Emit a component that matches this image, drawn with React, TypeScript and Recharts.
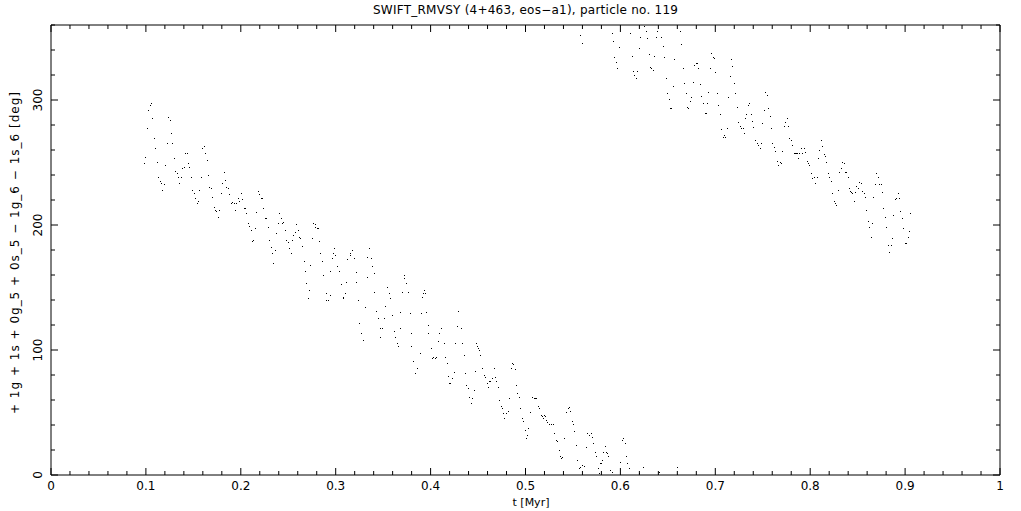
import React from "react";
import { ScatterChart, Scatter, XAxis, YAxis } from "recharts";

// t [Myr], angle [deg], one run of points per stretch of time
const run1: [number, number][] = [
  [0.0989, 249], [0.1, 254], [0.1021, 277], [0.1031, 292], [0.1053, 296], [0.1063, 297], [0.1074, 285], [0.1095, 269], [0.1105, 261], [0.1126, 250],
  [0.1137, 238], [0.1158, 235], [0.1168, 233], [0.1179, 228], [0.12, 232], [0.1211, 248], [0.1232, 265], [0.1242, 286], [0.1263, 284], [0.1274, 273],
  [0.1284, 265], [0.1306, 253], [0.1316, 243], [0.1337, 241], [0.1348, 238], [0.1358, 233], [0.1379, 238], [0.139, 245], [0.1411, 246], [0.1422, 257],
  [0.1443, 257], [0.1453, 249], [0.1464, 246], [0.1485, 238], [0.1495, 228], [0.1516, 225], [0.1527, 221], [0.1548, 217], [0.1559, 219], [0.1569, 228],
  [0.159, 238], [0.1601, 261], [0.1622, 263], [0.1632, 257], [0.1653, 252], [0.1664, 240], [0.1675, 230], [0.1696, 229], [0.1706, 222], [0.1727, 214],
  [0.1738, 212], [0.1748, 211], [0.1769, 206], [0.178, 212], [0.1801, 225], [0.1812, 233], [0.1833, 242], [0.1843, 236], [0.1854, 230], [0.1875, 229],
  [0.1885, 224], [0.1906, 217], [0.1917, 218], [0.1938, 217], [0.1949, 212], [0.1959, 217], [0.198, 221], [0.1991, 219], [0.2012, 225], [0.2022, 220],
  [0.2044, 213], [0.2054, 213], [0.2065, 209], [0.2086, 201], [0.2096, 199], [0.2117, 196], [0.2128, 187], [0.2138, 188], [0.216, 197], [0.217, 210],
  [0.2191, 227], [0.2202, 224], [0.2223, 221], [0.2233, 221], [0.2244, 213], [0.2265, 205], [0.2275, 205], [0.2297, 198], [0.2307, 188], [0.2328, 182],
  [0.2339, 177], [0.2349, 169], [0.237, 180], [0.2381, 193], [0.2402, 201],
];

const run2: [number, number][] = [
  [0.2412, 209], [0.2434, 205], [0.2444, 201], [0.2455, 202], [0.2476, 196], [0.2486, 188], [0.2507, 186], [0.2518, 181], [0.2529, 177], [0.255, 188],
  [0.256, 192], [0.2581, 194], [0.2592, 200], [0.2613, 196], [0.2623, 190], [0.2634, 189], [0.2655, 183], [0.2666, 171], [0.2687, 163], [0.2697, 153],
  [0.2718, 141], [0.2729, 148], [0.2739, 168], [0.276, 189], [0.2771, 201], [0.2782, 200], [0.2792, 198], [0.2803, 197], [0.2824, 197], [0.2834, 187],
  [0.2845, 177], [0.2866, 171], [0.2876, 160], [0.2898, 145], [0.2908, 140], [0.2919, 140], [0.294, 144], [0.295, 163], [0.2971, 173], [0.2982, 177],
  [0.2992, 181], [0.3003, 176], [0.3024, 167], [0.3035, 163], [0.3056, 152], [0.3077, 141], [0.3087, 142], [0.3108, 145], [0.3119, 154], [0.3129, 172],
  [0.3151, 176], [0.3161, 177], [0.3182, 180], [0.3193, 173], [0.3214, 162], [0.3224, 154], [0.3235, 140], [0.3256, 121], [0.3267, 113], [0.3288, 108],
  [0.3298, 108], [0.3309, 134], [0.333, 158], [0.334, 174], [0.3361, 181], [0.3372, 173], [0.3383, 167], [0.3404, 161], [0.3414, 146], [0.3435, 131],
  [0.3446, 125], [0.3467, 117], [0.3477, 110], [0.3488, 117], [0.3509, 125], [0.352, 135], [0.3541, 150], [0.3551, 150], [0.3562, 145], [0.3573, 141],
  [0.3594, 128], [0.3615, 115], [0.3626, 110], [0.3647, 105], [0.3657, 103], [0.3678, 117], [0.3688, 130], [0.3699, 146], [0.372, 160], [0.373, 157],
  [0.3741, 153], [0.3762, 146], [0.3783, 129], [0.3794, 113], [0.3804, 103], [0.3825, 91], [0.3836, 81], [0.3846, 81], [0.3867, 85], [0.3889, 97],
  [0.3899, 129], [0.391, 142], [0.392, 145], [0.3931, 148], [0.3941, 145], [0.3962, 130], [0.3973, 120], [0.3983, 113], [0.4005, 101], [0.4015, 93],
  [0.4026, 94], [0.4047, 93], [0.4057, 94], [0.4078, 107], [0.4089, 113],
];

const run3: [number, number][] = [
  [0.412, 117], [0.4142, 105], [0.4152, 94], [0.4173, 89], [0.4184, 79], [0.4194, 73], [0.4205, 73], [0.4226, 77], [0.4247, 82], [0.4258, 105],
  [0.4279, 119], [0.4289, 131], [0.4321, 117], [0.4331, 105], [0.4352, 96], [0.4363, 81], [0.4374, 72], [0.4395, 69], [0.4405, 62], [0.4426, 57],
  [0.4437, 61], [0.4458, 68], [0.4468, 83], [0.4479, 105], [0.449, 103], [0.45, 101], [0.4511, 100], [0.4521, 96], [0.4542, 85], [0.4563, 80],
  [0.4574, 78], [0.4595, 73], [0.4605, 70], [0.4616, 75], [0.4627, 75], [0.4648, 77], [0.4669, 85], [0.4679, 78], [0.469, 75], [0.4711, 70],
  [0.4721, 60], [0.4743, 55], [0.4753, 53], [0.4764, 49], [0.4774, 45], [0.4795, 49], [0.4816, 51], [0.4827, 61], [0.4848, 85], [0.4858, 89],
  [0.4869, 88], [0.489, 84], [0.4901, 72], [0.4911, 65], [0.4932, 62], [0.4943, 53], [0.4964, 45], [0.4974, 43], [0.4996, 36], [0.5006, 29],
  [0.5017, 32], [0.5027, 37], [0.5048, 50], [0.5069, 62], [0.5091, 61], [0.5101, 61], [0.5112, 61], [0.5133, 55], [0.5143, 53], [0.5164, 48],
  [0.5175, 47], [0.5185, 45], [0.5196, 48], [0.5207, 47], [0.5217, 44], [0.5228, 42], [0.5249, 40], [0.527, 40], [0.5291, 40], [0.5301, 33],
  [0.5322, 28], [0.5333, 27], [0.5354, 20], [0.5365, 15], [0.5375, 13], [0.5386, 14], [0.5407, 29], [0.5428, 50], [0.5449, 53], [0.5459, 54],
  [0.547, 51], [0.5491, 43], [0.5502, 40], [0.5512, 35], [0.5533, 24], [0.5544, 12], [0.5565, 5], [0.5575, 6], [0.5597, 8], [0.5618, 7],
  [0.5639, 22], [0.5649, 33], [0.567, 32], [0.5691, 33], [0.5702, 30], [0.5712, 25], [0.5733, 18], [0.5744, 15], [0.5765, 5], [0.5775, 1.3],
  [0.5786, 9], [0.5797, 9], [0.5807, 12], [0.5818, 18], [0.5839, 23], [0.5849, 18], [0.586, 17], [0.5871, 15], [0.5892, 4], [0.5913, 2],
  [0.5997, 10], [0.6018, 28], [0.6029, 29], [0.605, 25], [0.606, 15], [0.6071, 9], [0.6092, 5], [0.6197, 1.3], [0.624, 6], [0.6408, 2],
  [0.6598, 6],
];

const run4: [number, number][] = [
  [0.5579, 352], [0.5597, 345], [0.5913, 353], [0.5923, 347], [0.5934, 334], [0.5955, 330], [0.5966, 325], [0.5987, 342], [0.6103, 353], [0.6124, 335],
  [0.6134, 323], [0.6145, 320], [0.6166, 317], [0.6177, 323], [0.6197, 341], [0.6208, 350], [0.625, 359], [0.6271, 355], [0.6282, 349], [0.6303, 336],
  [0.6313, 326], [0.6324, 325], [0.6345, 324], [0.6356, 335], [0.6377, 350], [0.6387, 355], [0.6429, 350], [0.6451, 343], [0.6461, 334], [0.6482, 317],
  [0.6493, 305], [0.6514, 300], [0.6524, 293], [0.6535, 293], [0.6556, 311], [0.6566, 332], [0.663, 355], [0.664, 344], [0.6661, 325], [0.6672, 313],
  [0.6693, 305], [0.6703, 294], [0.6714, 293], [0.6735, 299], [0.6746, 302], [0.6767, 314], [0.6777, 328], [0.6798, 329], [0.6809, 329], [0.6819, 325],
  [0.6841, 312], [0.6851, 303], [0.6872, 297], [0.6893, 289], [0.6904, 289], [0.6914, 297], [0.6925, 306], [0.6946, 325], [0.6956, 337], [0.6977, 334],
  [0.6988, 333], [0.6999, 322], [0.702, 305], [0.703, 296], [0.7051, 288], [0.7062, 276], [0.7083, 270], [0.7094, 272], [0.7104, 270], [0.7125, 277],
  [0.7136, 302], [0.7157, 319], [0.7167, 332], [0.7178, 327], [0.7199, 313], [0.721, 305], [0.7231, 294], [0.7241, 282], [0.7262, 279], [0.7273, 277],
  [0.7294, 277], [0.7304, 273], [0.7315, 285], [0.7326, 288], [0.7347, 296], [0.7357, 297], [0.7378, 288], [0.7389, 283], [0.7399, 278], [0.742, 268],
  [0.7441, 265], [0.7452, 264],
];

const run5: [number, number][] = [
  [0.7473, 261], [0.7484, 265], [0.7494, 281], [0.7515, 292], [0.7526, 306], [0.7547, 304], [0.7557, 293], [0.7579, 287], [0.7589, 277], [0.76, 265],
  [0.7621, 262], [0.7631, 259], [0.7652, 251], [0.7663, 248], [0.7684, 250], [0.7695, 249], [0.7705, 259], [0.7726, 279], [0.7737, 282], [0.7758, 285],
  [0.7768, 279], [0.7779, 269], [0.78, 268], [0.7811, 264], [0.7832, 257], [0.7842, 257], [0.7853, 257], [0.7863, 257], [0.7874, 253], [0.7884, 257],
  [0.7905, 261], [0.7916, 257], [0.7937, 261], [0.7947, 258], [0.7969, 251], [0.7979, 249], [0.799, 248], [0.8011, 241], [0.8021, 237], [0.8042, 238],
  [0.8053, 233], [0.8074, 238], [0.8085, 253], [0.8095, 260], [0.8116, 268], [0.8127, 263], [0.8148, 256], [0.8158, 255], [0.8169, 250], [0.819, 241],
  [0.8201, 238], [0.8222, 235], [0.8232, 225], [0.8253, 219], [0.8264, 217], [0.8274, 216], [0.8295, 228], [0.8306, 242], [0.8327, 245], [0.8338, 250],
  [0.8359, 249], [0.8369, 242], [0.838, 242], [0.8401, 238], [0.8411, 229], [0.8422, 227], [0.8432, 226], [0.8443, 225], [0.8464, 219], [0.8475, 226],
  [0.8485, 231], [0.8506, 229], [0.8517, 234], [0.8538, 233], [0.8548, 227], [0.8569, 225], [0.858, 222], [0.8591, 212], [0.8612, 203], [0.8622, 198],
  [0.8643, 190], [0.8654, 201], [0.8664, 222], [0.8685, 232], [0.8696, 241], [0.8717, 238], [0.8727, 232], [0.8749, 232], [0.8759, 226], [0.877, 213],
  [0.8791, 206], [0.8801, 198], [0.8823, 184], [0.8833, 178], [0.8854, 184], [0.8865, 189], [0.8875, 208], [0.8896, 220], [0.8907, 221], [0.8928, 225],
  [0.8938, 221], [0.8949, 211], [0.897, 205], [0.8981, 197], [0.9002, 185], [0.9012, 185], [0.9033, 190], [0.9044, 195], [0.9054, 209],
];

const xTicks = [
  0, 0.02, 0.04, 0.06, 0.08, 0.1, 0.12, 0.14, 0.16, 0.18, 0.2, 0.22, 0.24, 0.26, 0.28, 0.3, 0.32, 0.34, 0.36, 0.38, 0.4,
  0.42, 0.44, 0.46, 0.48, 0.5, 0.52, 0.54, 0.56, 0.58, 0.6, 0.62, 0.64, 0.66, 0.68, 0.7, 0.72, 0.74, 0.76, 0.78, 0.8,
  0.82, 0.84, 0.86, 0.88, 0.9, 0.92, 0.94, 0.96, 0.98, 1,
];
const yTicks = [0, 20, 40, 60, 80, 100, 120, 140, 160, 180, 200, 220, 240, 260, 280, 300, 320, 340, 360];

const title = "SWIFT_RMVSY (4+463, eos\u2212a1), particle no. 119";
const xTitle = "t [Myr]";
const yTitle = "+ 1g + 1s + 0g_5 + 0s_5 \u2212 1g_6 \u2212 1s_6 [deg]";

const points = [...run1, ...run2, ...run3, ...run4, ...run5].map(([t, a]) => ({ t, a }));

const FONT = "DejaVu Sans, sans-serif";
const W = 1021;
const H = 511;

const xMajor = (v: number) => Math.abs(v * 10 - Math.round(v * 10)) < 1e-6;
const yMajor = (v: number) => v % 100 === 0;

function BottomTick(props: any) {
  const { x, y, payload } = props;
  const major = xMajor(payload.value);
  return (
    <g>
      <line x1={x} x2={x} y1={y} y2={y - (major ? 7 : 4)} stroke="#000" />
      {major && (
        <text x={x} y={y + 15} textAnchor="middle" fontSize={12} fontFamily={FONT} fill="#000">
          {String(Number(payload.value.toFixed(1)))}
        </text>
      )}
    </g>
  );
}

function TopTick(props: any) {
  const { x, y, payload } = props;
  const major = xMajor(payload.value);
  return <line x1={x} x2={x} y1={y} y2={y + (major ? 7 : 4)} stroke="#000" />;
}

function LeftTick(props: any) {
  const { x, y, payload } = props;
  const major = yMajor(payload.value);
  return (
    <g>
      <line x1={x} x2={x + (major ? 7 : 4)} y1={y} y2={y} stroke="#000" />
      {major && (
        <text
          x={x - 13}
          y={y}
          transform={`rotate(-90 ${x - 13} ${y})`}
          textAnchor="middle"
          dominantBaseline="central"
          fontSize={12}
          fontFamily={FONT}
          fill="#000"
        >
          {payload.value}
        </text>
      )}
    </g>
  );
}

function RightTick(props: any) {
  const { x, y, payload } = props;
  const major = yMajor(payload.value);
  return <line x1={x} x2={x - (major ? 7 : 4)} y1={y} y2={y} stroke="#000" />;
}

const Dot = (props: any) => (
  <rect x={Math.round(props.cx - 0.5)} y={Math.round(props.cy - 0.5)} width={1} height={1} fill="#000" />
);

export default function App() {
  return (
    <div style={{ position: "absolute", left: 0, top: 0, width: W, height: H, background: "#fff" }}>
      <ScatterChart width={W} height={H} margin={{ top: 20, right: 16, bottom: 6, left: 21 }}>
        <XAxis
          xAxisId="b"
          dataKey="t"
          type="number"
          domain={[0, 1]}
          allowDataOverflow
          ticks={xTicks}
          interval={0}
          height={30}
          tickSize={0}
          tickMargin={0}
          tickLine={false}
          axisLine={{ stroke: "#000" }}
          tick={<BottomTick />}
        />
        <XAxis
          xAxisId="t"
          orientation="top"
          dataKey="t"
          type="number"
          domain={[0, 1]}
          allowDataOverflow
          ticks={xTicks}
          interval={0}
          height={5}
          tickSize={0}
          tickMargin={0}
          tickLine={false}
          axisLine={{ stroke: "#000" }}
          tick={<TopTick />}
        />
        <YAxis
          yAxisId="l"
          dataKey="a"
          type="number"
          domain={[0, 360]}
          allowDataOverflow
          ticks={yTicks}
          interval={0}
          width={30}
          tickSize={0}
          tickMargin={0}
          tickLine={false}
          axisLine={{ stroke: "#000" }}
          tick={<LeftTick />}
        />
        <YAxis
          yAxisId="r"
          orientation="right"
          dataKey="a"
          type="number"
          domain={[0, 360]}
          allowDataOverflow
          ticks={yTicks}
          interval={0}
          width={5}
          tickSize={0}
          tickMargin={0}
          tickLine={false}
          axisLine={{ stroke: "#000" }}
          tick={<RightTick />}
        />
        <Scatter data={points} xAxisId="t" yAxisId="r" shape={() => <g />} isAnimationActive={false} />
        <Scatter data={points} xAxisId="b" yAxisId="l" shape={Dot} isAnimationActive={false} />
      </ScatterChart>
      <svg width={W} height={H} style={{ position: "absolute", left: 0, top: 0, pointerEvents: "none" }}>
        <text x={525.5} y={14} textAnchor="middle" fontSize={12} fontFamily={FONT} fill="#000" textLength={305} lengthAdjust="spacing">
          {title}
        </text>
        <text x={531} y={506} textAnchor="middle" fontSize={11} fontFamily={FONT} fill="#000">
          {xTitle}
        </text>
        <text
          x={15}
          y={253}
          transform="rotate(-90 15 253)"
          textAnchor="middle"
          dominantBaseline="central"
          fontSize={12}
          fontFamily={FONT}
          fill="#000"
          textLength={322}
          lengthAdjust="spacing"
        >
          {yTitle}
        </text>
      </svg>
    </div>
  );
}
